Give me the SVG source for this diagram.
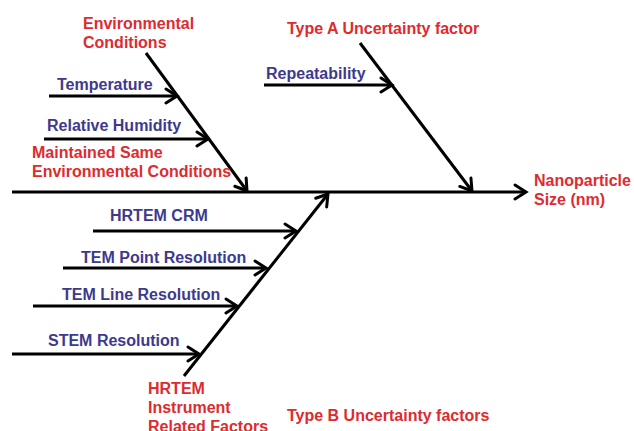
<svg xmlns="http://www.w3.org/2000/svg" width="634" height="431" viewBox="0 0 634 431">
<defs>
<marker id="ah" markerUnits="userSpaceOnUse" markerWidth="16" markerHeight="18" refX="13" refY="9" orient="auto">
<path d="M2,2 L13,9 L2,16" fill="none" stroke="#000" stroke-width="3" stroke-linecap="round" stroke-linejoin="miter"/>
</marker>
<style>
.ln{stroke:#000;stroke-width:3;fill:none}
.t{font-family:"Liberation Sans",Arial,sans-serif;font-weight:bold;font-size:16px}
.r{fill:#dd2b2f}
.b{fill:#3d3a8e}
</style>
</defs>
<rect width="634" height="431" fill="#fff"/>
<g id="connectors">
<line class="ln" x1="12" y1="192" x2="526" y2="192" marker-end="url(#ah)"/>
<line class="ln" x1="146" y1="53" x2="247" y2="191" marker-end="url(#ah)"/>
<line class="ln" x1="360" y1="43" x2="472" y2="191" marker-end="url(#ah)"/>
<line class="ln" x1="184" y1="376" x2="328" y2="194" marker-end="url(#ah)"/>
<line class="ln" x1="49" y1="96" x2="177" y2="96" marker-end="url(#ah)"/>
<line class="ln" x1="44" y1="139" x2="208" y2="139" marker-end="url(#ah)"/>
<line class="ln" x1="264" y1="85" x2="392" y2="85" marker-end="url(#ah)"/>
<line class="ln" x1="93" y1="231" x2="296" y2="231" marker-end="url(#ah)"/>
<line class="ln" x1="63" y1="268" x2="266" y2="268" marker-end="url(#ah)"/>
<line class="ln" x1="33" y1="306" x2="237" y2="306" marker-end="url(#ah)"/>
<line class="ln" x1="12" y1="354" x2="199" y2="354" marker-end="url(#ah)"/>
</g>
<g id="env"><text class="t r" x="83" y="29">Environmental</text><text class="t r" x="83" y="48">Conditions</text></g>
<g id="temp"><text class="t b" x="57" y="90">Temperature</text></g>
<g id="rh"><text class="t b" x="47" y="131">Relative Humidity</text></g>
<g id="maint"><text class="t r" x="32" y="158">Maintained Same</text><text class="t r" x="32" y="177">Environmental Conditions</text></g>
<g id="typeA"><text class="t r" x="287" y="34">Type A Uncertainty factor</text></g>
<g id="rep"><text class="t b" x="266" y="79">Repeatability</text></g>
<g id="size"><text class="t r" x="534" y="186">Nanoparticle</text><text class="t r" x="534" y="205">Size (nm)</text></g>
<g id="crm"><text class="t b" x="110" y="221">HRTEM CRM</text></g>
<g id="tpr"><text class="t b" x="81" y="263">TEM Point Resolution</text></g>
<g id="tlr"><text class="t b" x="62" y="300">TEM Line Resolution</text></g>
<g id="stem"><text class="t b" x="48" y="346">STEM Resolution</text></g>
<g id="hrtem"><text class="t r" x="148" y="394">HRTEM</text><text class="t r" x="148" y="413">Instrument</text><text class="t r" x="148" y="432">Related Factors</text></g>
<g id="typeB"><text class="t r" x="287" y="421">Type B Uncertainty factors</text></g>
</svg>
